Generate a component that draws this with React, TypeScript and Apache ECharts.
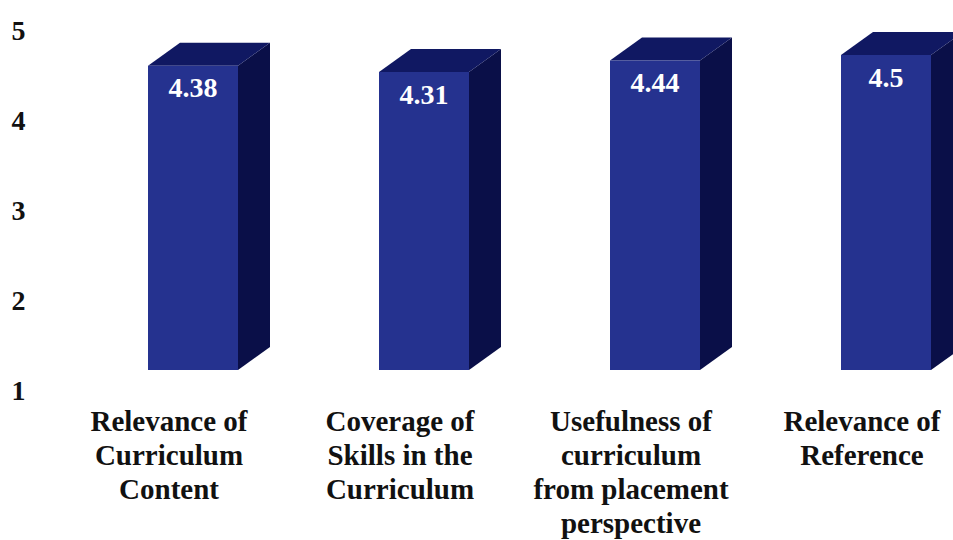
import React, { useEffect, useRef } from "react";
import * as echarts from "echarts";

const categories = [
  "Relevance of\nCurriculum\nContent",
  "Coverage of\nSkills in the\nCurriculum",
  "Usefulness of\ncurriculum\nfrom placement\nperspective",
  "Relevance of\nReference",
];
const values = [4.38, 4.31, 4.44, 4.5];
const yTicks = [1, 2, 3, 4, 5];

const FONT = "Liberation Serif";

export default function App() {
  const ref = useRef<HTMLDivElement>(null);
  useEffect(() => {
    if (!ref.current) return;
    const chart = echarts.init(ref.current, null, { renderer: "svg" });
    const shiftX = 24;
    const halfW = 45;
    const lift = 20;
    const dx = 32;
    const dy = -23;
    chart.setOption({
      animation: false,
      backgroundColor: "#ffffff",
      grid: { left: 53.5, width: 924, top: 30, height: 360, outerBoundsMode: "none", containLabel: false },
      xAxis: {
        type: "category",
        data: categories,
        axisLine: { show: false },
        axisTick: { show: false },
        axisLabel: {
          interval: 0,
          margin: 14,
          fontFamily: FONT,
          fontWeight: "bold",
          fontSize: 29,
          lineHeight: 34,
          color: "#111111",
          align: "center",
        },
      },
      yAxis: {
        type: "value",
        min: 1,
        max: 5,
        interval: 1,
        axisLine: { show: false },
        axisTick: { show: false },
        splitLine: { show: false },
        axisLabel: {
          align: "left",
          margin: 42,
          fontFamily: FONT,
          fontWeight: "bold",
          fontSize: 28,
          color: "#111111",
          formatter: (v: number) => (yTicks.includes(v) ? String(v) : ""),
        },
      },
      series: [
        {
          type: "custom",
          clip: false,
          data: values.map((v, i) => [i, v]),
          renderItem: (params: any, api: any) => {
            const idx = api.value(0);
            const val = api.value(1);
            const top = api.coord([idx, val]);
            const base = api.coord([idx, 1]);
            const cx = top[0] + shiftX;
            const x0 = cx - halfW;
            const x1 = cx + halfW;
            const yT = top[1] - lift;
            const yB = base[1] - lift;
            return {
              type: "group",
              children: [
                {
                  type: "polygon",
                  shape: {
                    points: [
                      [x1, yT],
                      [x1 + dx, yT + dy],
                      [x1 + dx, yB + dy],
                      [x1, yB],
                    ],
                  },
                  style: { fill: "#0a0f48" },
                },
                {
                  type: "polygon",
                  shape: {
                    points: [
                      [x0, yT],
                      [x0 + dx, yT + dy],
                      [x1 + dx, yT + dy],
                      [x1, yT],
                    ],
                  },
                  style: { fill: "#101862" },
                },
                {
                  type: "rect",
                  shape: { x: x0, y: yT, width: x1 - x0, height: yB - yT },
                  style: { fill: "#25328f" },
                },
                {
                  type: "text",
                  x: cx,
                  y: yT + 22,
                  style: {
                    text: String(val),
                    fill: "#ffffff",
                    fontFamily: FONT,
                    fontWeight: "bold",
                    fontSize: 28,
                    align: "center",
                    verticalAlign: "middle",
                  },
                },
              ],
            };
          },
        },
      ],
    });
    return () => chart.dispose();
  }, []);
  return (
    <div
      ref={ref}
      style={{ position: "absolute", left: 0, top: 0, width: 953, height: 540, overflow: "hidden" }}
    />
  );
}
